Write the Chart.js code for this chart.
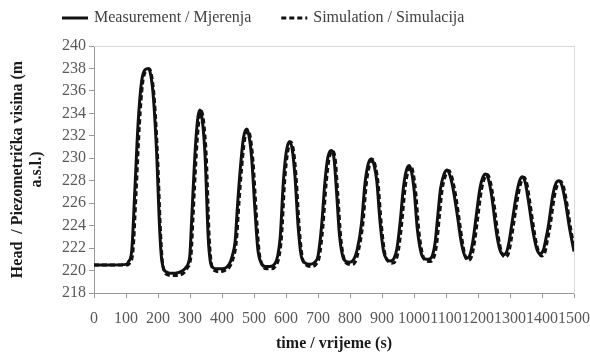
<!DOCTYPE html>
<html>
<head>
<meta charset="utf-8">
<script src="https://cdn.jsdelivr.net/npm/chart.js@4.4.1/dist/chart.umd.min.js"></script>
<style>
  html, body { margin: 0; padding: 0; background: #fff; }
  #wrap { width: 590px; height: 353px; }
</style>
</head>
<body>
<div id="wrap"><canvas id="chart"></canvas></div>
<script>
// === Head oscillation: measurement vs simulation ===

const SERIES_LABELS = ['Measurement / Mjerenja', 'Simulation / Simulacija'];

// measured head (m a.s.l.) against time (s)
const measTime = [0, 60, 100, 108, 118, 128, 138, 149, 160, 170, 178, 186, 196, 204, 210, 217, 228, 245, 262, 278,
  288, 294, 300, 305, 310, 318, 325, 331, 338, 347, 357, 363, 370, 385, 400, 415,
  425, 433, 441, 449, 457, 467, 477, 485, 493, 503, 512, 522, 535, 550, 565,
  574, 582, 592, 601, 611, 620, 628, 638, 647, 658, 675, 690,
  700, 711, 722, 731, 741, 750, 758, 767, 777, 788, 800, 812,
  822, 836, 847, 857, 867, 876, 884, 894, 905, 915, 926, 938,
  947, 957, 967, 976, 985, 993, 1001, 1010, 1022, 1033, 1045, 1057,
  1066, 1074, 1083, 1094, 1104, 1112, 1120, 1128, 1137, 1146, 1155, 1165, 1175,
  1184, 1192, 1206, 1215, 1224, 1233, 1243, 1258, 1268, 1279, 1290,
  1298, 1306, 1321, 1330, 1339, 1348, 1357, 1373, 1384, 1394, 1404,
  1412, 1420, 1435, 1444, 1453, 1462, 1472, 1486, 1500];
const measHead = [220.5, 220.5, 220.55, 220.8, 221.8, 227.4, 233.2, 236.9, 237.9, 238.0, 237.3, 235.3, 230.3, 224.4, 221.4, 220.2, 219.85, 219.75, 219.8, 220.0,
  220.3, 220.6, 221.5, 224.4, 227.35, 231.5, 233.7, 234.3, 233.5, 230.3, 222.9, 220.9, 220.3, 220.15, 220.15, 220.3,
  220.7, 221.4, 222.6, 226.0, 229.0, 231.8, 232.6, 231.9, 229.9, 225.4, 221.9, 220.7, 220.35, 220.35, 220.6,
  221.3, 223.0, 228.0, 230.6, 231.5, 230.7, 228.4, 223.9, 221.4, 220.7, 220.55, 220.75,
  221.3, 223.9, 228.0, 230.1, 230.7, 230.0, 227.0, 223.2, 221.3, 220.8, 220.75, 221.0,
  221.8, 224.2, 227.8, 229.5, 229.95, 229.3, 227.9, 224.3, 221.7, 221.0, 220.85, 221.1,
  222.0, 224.4, 227.4, 228.9, 229.35, 228.7, 227.0, 223.8, 221.6, 221.05, 221.0, 221.3,
  222.5, 224.8, 227.3, 228.6, 228.95, 228.5, 227.6, 226.3, 224.6, 222.8, 221.6, 221.1, 221.4,
  222.6, 224.3, 227.3, 228.3, 228.6, 228.1, 226.6, 223.3, 221.9, 221.4, 221.7,
  222.7, 224.2, 226.9, 228.0, 228.35, 227.8, 226.3, 223.3, 221.9, 221.5, 221.8,
  222.8, 224.0, 226.9, 227.8, 228.0, 227.6, 226.3, 223.8, 221.7];

// simulated head (m a.s.l.) against time (s)
const simTime = [0, 60, 104, 112, 122, 132, 142, 152, 163, 173, 181, 189, 199, 207, 213, 220, 232, 250, 268, 283,
  293, 299, 304, 309, 314, 322, 329, 335, 342, 351, 360, 367, 377, 393, 408, 423,
  434, 445, 453, 461, 471, 481, 489, 497, 507, 516, 526, 540, 555, 569,
  578, 586, 596, 605, 615, 624, 632, 642, 651, 662, 680, 695,
  704, 715, 726, 735, 745, 754, 762, 771, 781, 792, 805, 817,
  826, 840, 851, 861, 871, 880, 888, 898, 909, 920, 931, 943,
  952, 962, 972, 981, 990, 998, 1006, 1015, 1027, 1038, 1050, 1062,
  1071, 1079, 1088, 1099, 1109, 1117, 1125, 1133, 1142, 1151, 1160, 1170, 1180,
  1189, 1197, 1211, 1220, 1229, 1238, 1248, 1263, 1273, 1284, 1295,
  1303, 1311, 1326, 1335, 1344, 1353, 1362, 1378, 1389, 1399, 1409,
  1417, 1425, 1440, 1449, 1458, 1467, 1477, 1491, 1500];
const simHead = [220.5, 220.5, 220.5, 220.7, 221.8, 227.2, 233.0, 236.7, 237.8, 237.95, 237.2, 235.1, 230.0, 224.0, 221.0, 219.9, 219.6, 219.55, 219.6, 219.85,
  220.3, 220.6, 221.6, 224.4, 227.3, 231.4, 233.6, 234.2, 233.4, 230.1, 223.0, 220.6, 220.0, 219.9, 220.0, 220.3,
  221.0, 222.6, 226.0, 229.0, 231.7, 232.5, 231.8, 229.7, 225.2, 221.7, 220.5, 220.15, 220.15, 220.45,
  221.2, 223.0, 228.0, 230.5, 231.45, 230.6, 228.2, 223.6, 221.2, 220.5, 220.35, 220.6,
  221.2, 223.8, 227.9, 230.0, 230.65, 229.9, 226.8, 223.0, 221.1, 220.6, 220.55, 220.8,
  221.7, 224.1, 227.7, 229.4, 229.9, 229.2, 227.7, 224.1, 221.5, 220.8, 220.65, 220.9,
  221.9, 224.3, 227.3, 228.8, 229.3, 228.6, 226.8, 223.6, 221.4, 220.85, 220.8, 221.15,
  222.4, 224.7, 227.2, 228.5, 228.9, 228.45, 227.5, 226.2, 224.4, 222.6, 221.3, 220.9, 221.25,
  222.5, 224.2, 227.2, 228.2, 228.55, 228.0, 226.4, 223.1, 221.7, 221.2, 221.5,
  222.6, 224.1, 226.8, 227.9, 228.3, 227.7, 226.1, 223.1, 221.7, 221.3, 221.6,
  222.7, 223.9, 226.8, 227.7, 227.95, 227.5, 226.1, 223.5, 222.2];

const X_MIN = 0, X_MAX = 1500, X_STEP = 100;
const Y_MIN = 218, Y_MAX = 240, Y_STEP = 2;

const SERIF = "'Liberation Serif', 'Times New Roman', serif";
const AXIS_GRAY = '#9a9a9a';
const FRAME_GRAY = '#d9d9d9';
const TICK_TEXT = '#595959';

Chart.defaults.font.family = SERIF;
Chart.defaults.font.size = 16;

function toPoints(xs, ys) {
  return xs.map((x, i) => ({ x, y: ys[i] }));
}

// legend drawn as a line sample + text, the way the spreadsheet did it
const lineLegend = {
  id: 'lineLegend',
  afterDraw(chart, args, opts) {
    const ctx = chart.ctx;
    let x = opts.left;
    ctx.save();
    ctx.font = `16px ${SERIF}`;
    ctx.textBaseline = 'middle';
    chart.data.datasets.forEach(ds => {
      ctx.strokeStyle = ds.borderColor;
      ctx.lineWidth = ds.borderWidth;
      ctx.setLineDash(ds.borderDash || []);
      ctx.beginPath();
      ctx.moveTo(x, opts.y);
      ctx.lineTo(x + opts.sample, opts.y);
      ctx.stroke();
      x += opts.sample + opts.gap;
      ctx.fillStyle = opts.color;
      ctx.fillText(ds.label, x, opts.y);
      x += ctx.measureText(ds.label).width + opts.spacing;
    });
    ctx.restore();
  }
};

new Chart(document.getElementById('chart'), {
  type: 'line',
  data: {
    datasets: [
      {
        label: SERIES_LABELS[0],
        data: toPoints(measTime, measHead),
        borderColor: '#111',
        borderWidth: 3,
        pointRadius: 0,
        cubicInterpolationMode: 'monotone',
        xAxisID: 'x',
        yAxisID: 'y',
      },
      {
        label: SERIES_LABELS[1],
        data: toPoints(simTime, simHead),
        borderColor: '#111',
        borderWidth: 3,
        borderDash: [5, 3],
        pointRadius: 0,
        cubicInterpolationMode: 'monotone',
        xAxisID: 'x',
        yAxisID: 'y',
      },
    ],
  },
  options: {
    responsive: true,
    maintainAspectRatio: false,
    animation: false,
    layout: { padding: { top: 46, right: 0, bottom: 0, left: 0 } },
    plugins: {
      legend: { display: false },
      tooltip: { enabled: false },
      lineLegend: { left: 62, y: 18, sample: 26, gap: 6, spacing: 30, color: '#404040' },
    },
    scales: {
      x: {
        type: 'linear',
        position: 'bottom',
        min: X_MIN,
        max: X_MAX,
        ticks: {
          stepSize: X_STEP,
          autoSkip: false,
          maxRotation: 0,
          minRotation: 0,
          padding: 11,
          color: TICK_TEXT,
          font: { size: 16 },
          callback: v => String(v),
        },
        grid: { drawOnChartArea: false, tickLength: 5, color: AXIS_GRAY },
        border: { color: AXIS_GRAY, width: 1 },
        title: {
          display: true,
          text: 'time / vrijeme (s)',
          color: '#1a1a1a',
          font: { size: 16, weight: 'bold' },
          padding: { top: 0, bottom: 0 },
        },
        // fixed band under the plot; last label may hang into the margin
        afterFit(scale) {
          scale.height = 60;
          scale.paddingRight -= scale.options.ticks.padding;
        },
      },
      y: {
        type: 'linear',
        position: 'left',
        min: Y_MIN,
        max: Y_MAX,
        ticks: {
          stepSize: Y_STEP,
          autoSkip: false,
          padding: 3,
          color: TICK_TEXT,
          font: { size: 16 },
        },
        grid: { drawOnChartArea: false, tickLength: 5, color: AXIS_GRAY },
        border: { color: AXIS_GRAY, width: 1 },
        title: {
          display: true,
          text: ['Head  / Piezometrička visina (m', 'a.s.l.)'],
          color: '#1a1a1a',
          font: { size: 16, weight: 'bold' },
          padding: { top: 8, bottom: 13 },
        },
        afterFit(scale) {
          scale.width = 94;
        },
      },
      // light frame on the top and right of the plot area
      x2: {
        type: 'linear',
        position: 'top',
        min: X_MIN,
        max: X_MAX,
        ticks: { display: false },
        grid: { display: false, drawTicks: false },
        border: { color: FRAME_GRAY, width: 1 },
      },
      y2: {
        type: 'linear',
        position: 'right',
        min: Y_MIN,
        max: Y_MAX,
        ticks: { display: false },
        grid: { display: false, drawTicks: false },
        border: { color: FRAME_GRAY, width: 1 },
      },
    },
  },
  plugins: [lineLegend],
});
</script>
</body>
</html>
